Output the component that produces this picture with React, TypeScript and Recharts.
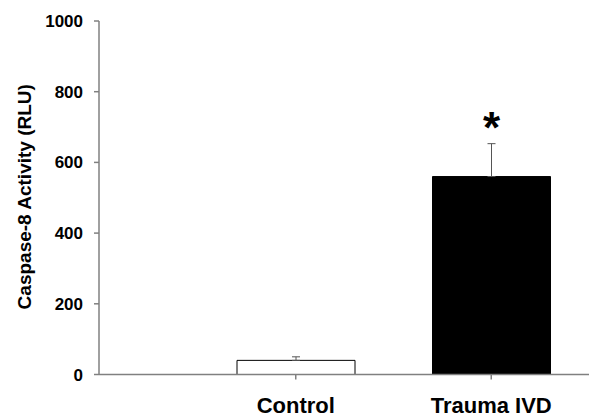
import React from "react";
import { BarChart, Bar, XAxis, YAxis, ErrorBar, LabelList, Cell } from "recharts";

const categories = ["Control", "Trauma IVD"];
const values = [40, 560];
const errors = [10, 93];
const significance = ["", "*"];
const fills = ["#ffffff", "#000000"];
const yTicks = [0, 200, 400, 600, 800, 1000];
const yLabel = "Caspase-8 Activity (RLU)";

const data = categories.map((name, i) => ({
  name,
  value: values[i],
  err: [0, errors[i]],
  sig: significance[i],
}));

const FONT = "Arial, 'Liberation Sans', sans-serif";

const YLabel = (props: any) => {
  const vb = props.viewBox || {};
  const cx = (vb.x || 0) + 24.5;
  const cy = (vb.y || 0) + (vb.height || 0) / 2 - 1;
  return (
    <text
      x={cx}
      y={cy}
      transform={`rotate(-90, ${cx}, ${cy})`}
      textAnchor="middle"
      dominantBaseline="central"
      fontFamily={FONT}
      fontWeight="bold"
      fontSize={19}
      fill="#000"
    >
      {yLabel}
    </text>
  );
};

const SigLabel = (props: any) => {
  const { x, y, width, value } = props;
  if (!value) return null;
  return (
    <text
      x={x + width / 2}
      y={y - 34}
      textAnchor="middle"
      fontFamily={FONT}
      fontWeight="bold"
      fontSize={44}
      fill="#000"
    >
      {value}
    </text>
  );
};

export default function App() {
  return (
    <div style={{ position: "absolute", left: 0, top: 0, background: "#fff" }}>
      <BarChart
        width={589}
        height={419}
        data={data}
        margin={{ top: 21, right: 0, bottom: 0, left: 0 }}
        barSize={118}
      >
        <XAxis
          dataKey="name"
          height={44.5}
          padding={{ left: 99, right: 0 }}
          stroke="#808080"
          strokeWidth={1.5}
          tickSize={5}
          tickMargin={18}
          tick={{ fill: "#000", fontFamily: FONT, fontWeight: "bold", fontSize: 22 }}
        />
        <YAxis
          width={99}
          domain={[0, 1000]}
          ticks={yTicks}
          interval={0}
          stroke="#808080"
          strokeWidth={1.5}
          tickSize={5}
          tickMargin={11}
          tick={{ fill: "#000", fontFamily: FONT, fontWeight: "bold", fontSize: 17 }}
          label={<YLabel />}
        />
        <Bar dataKey="value" stroke="#000" strokeWidth={1} isAnimationActive={false}>
          {data.map((d, i) => (
            <Cell key={d.name} fill={fills[i]} />
          ))}
          <ErrorBar dataKey="err" width={4} stroke="#555" strokeWidth={1} direction="y" />
          <LabelList dataKey="sig" content={<SigLabel />} />
        </Bar>
      </BarChart>
    </div>
  );
}
